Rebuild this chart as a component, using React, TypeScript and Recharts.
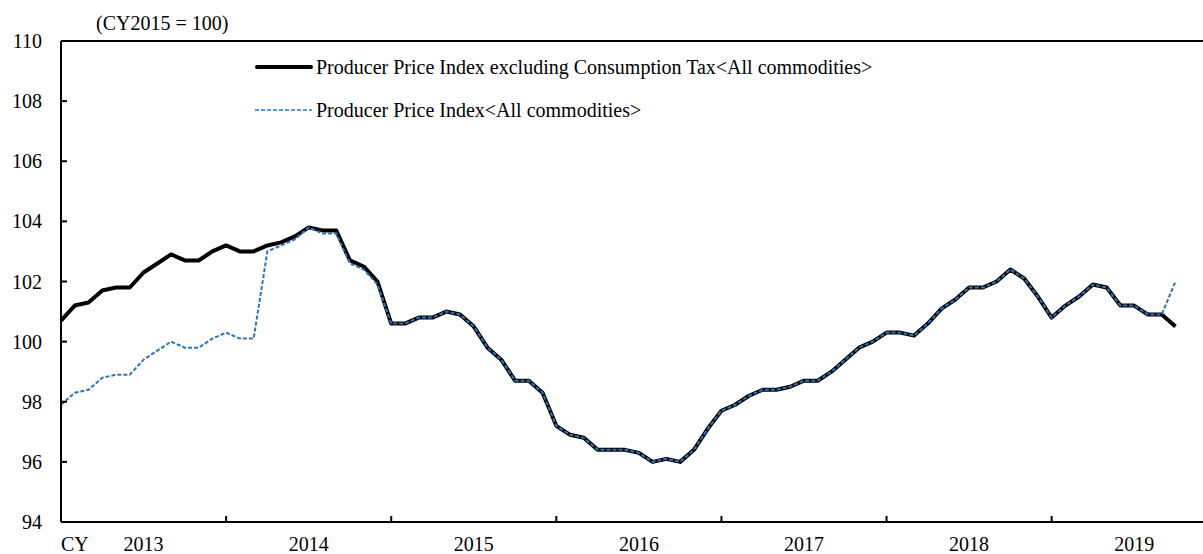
import { LineChart, Line, XAxis, YAxis, ReferenceLine } from "recharts";

// Monthly, Jan 2013 .. Oct 2019 (CY2015 = 100)
const years = ["2013", "2014", "2015", "2016", "2017", "2018", "2019"];

const ppiExTax = [
  100.7, 101.2, 101.3, 101.7, 101.8, 101.8, 102.3, 102.6, 102.9, 102.7, 102.7, 103.0,
  103.2, 103.0, 103.0, 103.2, 103.3, 103.5, 103.8, 103.7, 103.7, 102.7, 102.5, 102.0,
  100.6, 100.6, 100.8, 100.8, 101.0, 100.9, 100.5, 99.8, 99.4, 98.7, 98.7, 98.3,
  97.2, 96.9, 96.8, 96.4, 96.4, 96.4, 96.3, 96.0, 96.1, 96.0, 96.4, 97.1,
  97.7, 97.9, 98.2, 98.4, 98.4, 98.5, 98.7, 98.7, 99.0, 99.4, 99.8, 100.0,
  100.3, 100.3, 100.2, 100.6, 101.1, 101.4, 101.8, 101.8, 102.0, 102.4, 102.1, 101.5,
  100.8, 101.2, 101.5, 101.9, 101.8, 101.2, 101.2, 100.9, 100.9, 100.5,
];

const ppiAll = [
  97.9, 98.3, 98.4, 98.8, 98.9, 98.9, 99.4, 99.7, 100.0, 99.8, 99.8, 100.1,
  100.3, 100.1, 100.1, 103.0, 103.2, 103.4, 103.8, 103.6, 103.6, 102.6, 102.4, 101.9,
  100.6, 100.6, 100.8, 100.8, 101.0, 100.9, 100.5, 99.8, 99.4, 98.7, 98.7, 98.3,
  97.2, 96.9, 96.8, 96.4, 96.4, 96.4, 96.3, 96.0, 96.1, 96.0, 96.4, 97.1,
  97.7, 97.9, 98.2, 98.4, 98.4, 98.5, 98.7, 98.7, 99.0, 99.4, 99.8, 100.0,
  100.3, 100.3, 100.2, 100.6, 101.1, 101.4, 101.8, 101.8, 102.0, 102.4, 102.1, 101.5,
  100.8, 101.2, 101.5, 101.9, 101.8, 101.2, 101.2, 100.9, 100.9, 102.0,
];

const yTicks = [94, 96, 98, 100, 102, 104, 106, 108, 110];

const data = ppiExTax.map((v, i) => ({ idx: i, exTax: v, all: ppiAll[i] }));

// label ticks at mid-year, tick marks at year starts
const xTicks = [0];
years.forEach((_, k) => {
  xTicks.push(k * 12 + 6);
  if (k > 0) xTicks.push(k * 12);
});

const FONT = "'Liberation Serif', 'Times New Roman', serif";

const XTick = (props: any) => {
  const { x, y, payload } = props;
  const v = payload.value;
  if (v === 0) {
    return (
      <text x={x} y={y + 22} dominantBaseline="central" fontSize={20} fontFamily={FONT} fill="#000">
        CY
      </text>
    );
  }
  if (v % 12 === 0) {
    return <line x1={x} x2={x} y1={y} y2={y - 6} stroke="#000" strokeWidth={2} />;
  }
  return (
    <text x={x} y={y + 22} textAnchor="middle" dominantBaseline="central" fontSize={20} fontFamily={FONT} fill="#000">
      {years[(v - 6) / 12]}
    </text>
  );
};

const YTick = (props: any) => {
  const { x, y, payload } = props;
  return (
    <g>
      <line x1={x} x2={x + 6} y1={y} y2={y} stroke="#000" strokeWidth={2} />
      <text x={x - 19} y={y} textAnchor="end" dominantBaseline="central" fontSize={20} fontFamily={FONT} fill="#000">
        {payload.value}
      </text>
    </g>
  );
};

const LegendBox = () => (
  <div style={{ position: "absolute", left: 255, top: 55, fontFamily: FONT, fontSize: 20, color: "#000" }}>
    <div style={{ display: "flex", alignItems: "center", height: 24 }}>
      <svg width={61} height={10}>
        <line x1={2} x2={56} y1={5} y2={5} stroke="#000" strokeWidth={4} strokeLinecap="round" />
      </svg>
      <span>Producer Price Index excluding Consumption Tax&lt;All commodities&gt;</span>
    </div>
    <div style={{ display: "flex", alignItems: "center", height: 24, marginTop: 19 }}>
      <svg width={61} height={10}>
        <line x1={0} x2={57} y1={5} y2={5} stroke="#2e75b6" strokeWidth={1.5} strokeDasharray="4 2" />
      </svg>
      <span>Producer Price Index&lt;All commodities&gt;</span>
    </div>
  </div>
);

export default function App() {
  return (
    <div style={{ position: "absolute", left: 0, top: 0, width: 1203, height: 554, background: "#fff" }}>
      <LineChart width={1203} height={554} data={data} margin={{ top: 41, right: 0, bottom: 0, left: 0 }}>
        <XAxis
          dataKey="idx"
          type="number"
          domain={[0, 83]}
          ticks={xTicks}
          interval={0}
          height={32}
          tickSize={0}
          tickMargin={0}
          tickLine={false}
          axisLine={{ stroke: "#000", strokeWidth: 2 }}
          tick={<XTick />}
        />
        <YAxis
          type="number"
          domain={[94, 110]}
          ticks={yTicks}
          interval={0}
          width={61}
          tickSize={0}
          tickMargin={0}
          tickLine={false}
          axisLine={{ stroke: "#000", strokeWidth: 2 }}
          tick={<YTick />}
        />
        <ReferenceLine y={110} stroke="#000" strokeWidth={2} />
        <Line
          type="linear"
          dataKey="exTax"
          stroke="#000"
          strokeWidth={4}
          dot={false}
          strokeLinejoin="round"
          isAnimationActive={false}
        />
        <Line
          type="linear"
          dataKey="all"
          stroke="#2e75b6"
          strokeWidth={2}
          strokeDasharray="4 2"
          dot={false}
          isAnimationActive={false}
        />
      </LineChart>
      <div style={{ position: "absolute", left: 96, top: 12, fontFamily: FONT, fontSize: 20 }}>
        (CY2015 = 100)
      </div>
      <LegendBox />
    </div>
  );
}
